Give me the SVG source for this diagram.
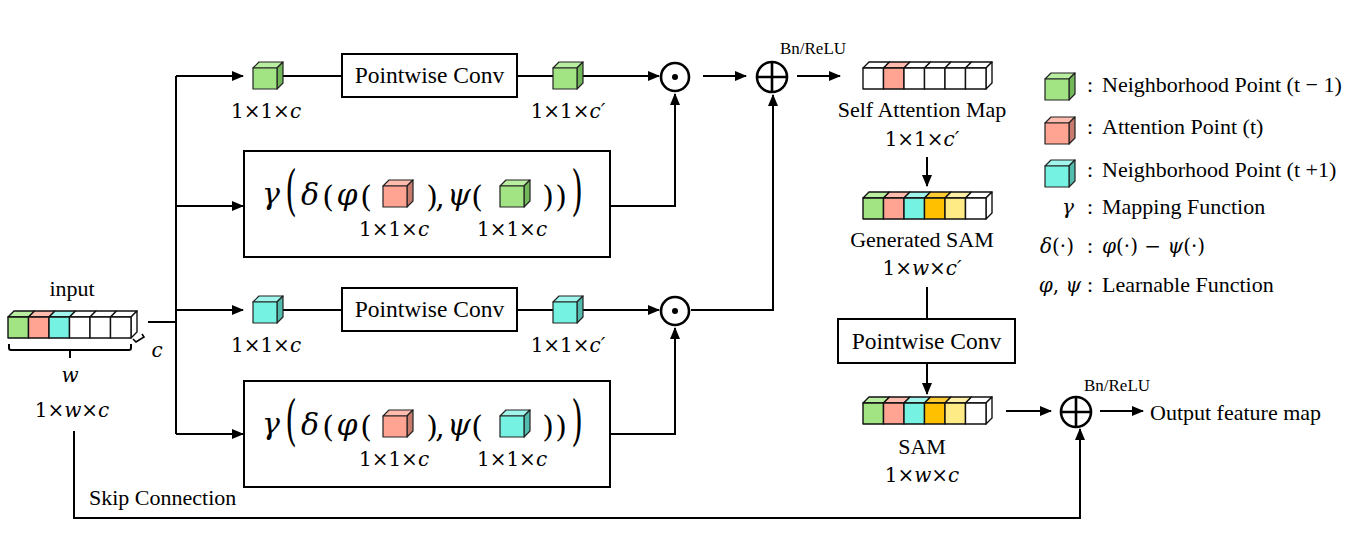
<svg xmlns="http://www.w3.org/2000/svg" xmlns:xlink="http://www.w3.org/1999/xlink" width="1358" height="541" viewBox="0 0 1358 541">
<style>
.t{font-family:"Liberation Serif","Times New Roman",serif;font-size:22px;fill:#000}
.pc{font-family:"Liberation Serif","Times New Roman",serif;font-size:23.5px;fill:#000}
.sm{font-family:"Liberation Serif","Times New Roman",serif;font-size:17px;fill:#000}
.m{font-family:"DejaVu Serif",serif;font-size:20px;fill:#000}
.mi{font-style:italic}
.g{font-family:"DejaVu Serif",serif;font-style:italic;font-size:30px;fill:#000}
.p{font-family:"DejaVu Serif",serif;font-size:30px;fill:#000}
.box{fill:#fff;stroke:#000;stroke-width:2}
.ln{fill:none;stroke:#000;stroke-width:2}
.cb{stroke:#222;stroke-width:1.2;stroke-linejoin:round}
.cell{stroke:#111;stroke-width:1.4;stroke-linejoin:round}
.op{fill:none;stroke:#000;stroke-width:2.6}
</style>
<defs>
<marker id="ah" markerUnits="userSpaceOnUse" markerWidth="12" markerHeight="10" refX="11" refY="5" orient="auto">
<path d="M0,0 L12,5 L0,10 Z" fill="#000"/>
</marker>
<g id="cubeG" class="cb">
<polygon points="0,6 6,0 30,0 24,6" fill="#B9EDA0"/>
<polygon points="24,6 30,0 30,21 24,27" fill="#72B85A"/>
<rect x="0" y="6" width="24" height="21" fill="#A2E483"/>
</g>
<g id="cubeR" class="cb">
<polygon points="0,6 6,0 30,0 24,6" fill="#FFBBAE"/>
<polygon points="24,6 30,0 30,21 24,27" fill="#C77B6C"/>
<rect x="0" y="6" width="24" height="21" fill="#FFA393"/>
</g>
<g id="cubeC" class="cb">
<polygon points="0,6 6,0 30,0 24,6" fill="#A0F6EC"/>
<polygon points="24,6 30,0 30,21 24,27" fill="#52BDAE"/>
<rect x="0" y="6" width="24" height="21" fill="#76F2E2"/>
</g>
</defs>

<!-- connectors -->
<g id="connectors">
<path class="ln" d="M148,322 H176"/>
<path class="ln" d="M176,76 V434"/>
<path class="ln" d="M176,76 H243" marker-end="url(#ah)"/>
<path class="ln" d="M176,206 H243" marker-end="url(#ah)"/>
<path class="ln" d="M176,310 H243" marker-end="url(#ah)"/>
<path class="ln" d="M176,434 H243" marker-end="url(#ah)"/>
<path class="ln" d="M283,76 H342"/>
<path class="ln" d="M517,76 H553"/>
<path class="ln" d="M583,76 H659" marker-end="url(#ah)"/>
<path class="ln" d="M283,310 H342"/>
<path class="ln" d="M517,310 H553"/>
<path class="ln" d="M583,310 H659" marker-end="url(#ah)"/>
<path class="ln" d="M703,76 H746" marker-end="url(#ah)"/>
<path class="ln" d="M797,76 H840" marker-end="url(#ah)"/>
<path class="ln" d="M610,206 H675 V94" marker-end="url(#ah)"/>
<path class="ln" d="M691,310 H773 V95" marker-end="url(#ah)"/>
<path class="ln" d="M610,434 H675 V328" marker-end="url(#ah)"/>
<path class="ln" d="M927,157 V186" marker-end="url(#ah)"/>
<path class="ln" d="M927,287 V318"/>
<path class="ln" d="M927,363 V394" marker-end="url(#ah)"/>
<path class="ln" d="M1006,411 H1051" marker-end="url(#ah)"/>
<path class="ln" d="M1100,411 H1143" marker-end="url(#ah)"/>
<path class="ln" d="M74,431 V518 H1080 V429" marker-end="url(#ah)"/>
</g>

<!-- input -->
<g id="input">
<text class="t" x="72" y="296" text-anchor="middle">input</text>
<g transform="translate(8,311)" class="cell">
<polygon points="0,6 6,0 26.5,0 20.5,6" fill="#B9EDA0"/>
<polygon points="20.5,6 26.5,0 47,0 41,6" fill="#FFBBAE"/>
<polygon points="41,6 47,0 67.5,0 61.5,6" fill="#A0F6EC"/>
<polygon points="61.5,6 67.5,0 88,0 82,6" fill="#fff"/>
<polygon points="82,6 88,0 108.5,0 102.5,6" fill="#fff"/>
<polygon points="102.5,6 108.5,0 129,0 123,6" fill="#fff"/>
<polygon points="123,6 129,0 129,21 123,27" fill="#fff"/>
<rect x="0" y="6" width="20.5" height="21" fill="#A2E483"/>
<rect x="20.5" y="6" width="20.5" height="21" fill="#FFA393"/>
<rect x="41" y="6" width="20.5" height="21" fill="#76F2E2"/>
<rect x="61.5" y="6" width="20.5" height="21" fill="#fff"/>
<rect x="82" y="6" width="20.5" height="21" fill="#fff"/>
<rect x="102.5" y="6" width="20.5" height="21" fill="#fff"/>
</g>
<path d="M133,339 l3,3 l8,-5 l-2,-3" fill="none" stroke="#000" stroke-width="1.6"/>
<path d="M9,344 v4 q0,2 2,2 H129 q2,0 2,-2 v-4 M70,350 v8" fill="none" stroke="#000" stroke-width="2"/>
<text class="m mi" x="157" y="357" text-anchor="middle">c</text>
<text class="m mi" x="70" y="382" text-anchor="middle">w</text>
<text class="m" x="72" y="417" text-anchor="middle">1×<tspan class="mi">w</tspan>×<tspan class="mi">c</tspan></text>
</g>

<!-- top row -->
<g id="cube-top-in">
<use href="#cubeG" x="253" y="62"/>
<text class="m" x="266" y="118" text-anchor="middle">1×1×<tspan class="mi">c</tspan></text>
</g>
<g id="pwconv-top">
<rect class="box" x="342" y="54" width="175" height="43"/>
<text class="pc" x="429.5" y="83" text-anchor="middle">Pointwise Conv</text>
</g>
<g id="cube-top-out">
<use href="#cubeG" x="553" y="62"/>
<text class="m" x="568" y="118" text-anchor="middle">1×1×<tspan class="mi">c′</tspan></text>
</g>
<g id="odot-top">
<circle class="op" cx="675" cy="77" r="14"/>
<circle cx="675" cy="77" r="3" fill="#000"/>
</g>
<g id="oplus-top">
<circle class="op" cx="772" cy="77" r="15"/>
<path class="op" d="M757,77 H787 M772,62 V92"/>
<text class="sm" x="813" y="54" text-anchor="middle">Bn/ReLU</text>
</g>

<!-- gamma box 1 -->
<g id="gamma-top">
<rect class="box" x="244" y="151" width="366" height="106"/>
<text class="g" x="271" y="204" text-anchor="middle">γ</text>
<text class="p" transform="translate(291,209) scale(1,1.8)" text-anchor="middle">(</text>
<text class="g" x="310" y="205" text-anchor="middle">δ</text>
<text class="p" x="328" y="207" text-anchor="middle">(</text>
<text class="g" x="347" y="205" text-anchor="middle">φ</text>
<text class="p" x="366" y="207" text-anchor="middle">(</text>
<use href="#cubeR" x="383" y="180"/>
<text class="p" x="432" y="207" text-anchor="middle">)</text>
<text class="p" x="440" y="207" text-anchor="middle">,</text>
<text class="g" x="459" y="205" text-anchor="middle">ψ</text>
<text class="p" x="477" y="207" text-anchor="middle">(</text>
<use href="#cubeG" x="500" y="180"/>
<text class="p" x="548" y="207" text-anchor="middle">)</text>
<text class="p" x="561" y="207" text-anchor="middle">)</text>
<text class="p" transform="translate(577,209) scale(1,1.8)" text-anchor="middle">)</text>
<text class="m" x="394" y="236" text-anchor="middle">1×1×<tspan class="mi">c</tspan></text>
<text class="m" x="512" y="236" text-anchor="middle">1×1×<tspan class="mi">c</tspan></text>
</g>

<!-- middle row -->
<g id="cube-mid-in">
<use href="#cubeC" x="253" y="296"/>
<text class="m" x="266" y="352" text-anchor="middle">1×1×<tspan class="mi">c</tspan></text>
</g>
<g id="pwconv-mid">
<rect class="box" x="342" y="288" width="175" height="43"/>
<text class="pc" x="429.5" y="317" text-anchor="middle">Pointwise Conv</text>
</g>
<g id="cube-mid-out">
<use href="#cubeC" x="553" y="296"/>
<text class="m" x="568" y="352" text-anchor="middle">1×1×<tspan class="mi">c′</tspan></text>
</g>
<g id="odot-mid">
<circle class="op" cx="675" cy="311" r="14"/>
<circle cx="675" cy="311" r="3" fill="#000"/>
</g>

<!-- gamma box 2 -->
<g id="gamma-bottom">
<rect class="box" x="244" y="381" width="366" height="106"/>
<text class="g" x="271" y="434" text-anchor="middle">γ</text>
<text class="p" transform="translate(291,439) scale(1,1.8)" text-anchor="middle">(</text>
<text class="g" x="310" y="435" text-anchor="middle">δ</text>
<text class="p" x="328" y="437" text-anchor="middle">(</text>
<text class="g" x="347" y="435" text-anchor="middle">φ</text>
<text class="p" x="366" y="437" text-anchor="middle">(</text>
<use href="#cubeR" x="383" y="410"/>
<text class="p" x="432" y="437" text-anchor="middle">)</text>
<text class="p" x="440" y="437" text-anchor="middle">,</text>
<text class="g" x="459" y="435" text-anchor="middle">ψ</text>
<text class="p" x="477" y="437" text-anchor="middle">(</text>
<use href="#cubeC" x="500" y="410"/>
<text class="p" x="548" y="437" text-anchor="middle">)</text>
<text class="p" x="561" y="437" text-anchor="middle">)</text>
<text class="p" transform="translate(577,439) scale(1,1.8)" text-anchor="middle">)</text>
<text class="m" x="394" y="466" text-anchor="middle">1×1×<tspan class="mi">c</tspan></text>
<text class="m" x="512" y="466" text-anchor="middle">1×1×<tspan class="mi">c</tspan></text>
</g>

<!-- Self Attention Map -->
<g id="self-attention-map">
<g transform="translate(863,62)" class="cell">
<polygon points="0,6 6,0 26.5,0 20.5,6" fill="#fff"/>
<polygon points="20.5,6 26.5,0 47,0 41,6" fill="#FFBBAE"/>
<polygon points="41,6 47,0 67.5,0 61.5,6" fill="#fff"/>
<polygon points="61.5,6 67.5,0 88,0 82,6" fill="#fff"/>
<polygon points="82,6 88,0 108.5,0 102.5,6" fill="#fff"/>
<polygon points="102.5,6 108.5,0 129,0 123,6" fill="#fff"/>
<polygon points="123,6 129,0 129,21 123,27" fill="#fff"/>
<rect x="0" y="6" width="20.5" height="21" fill="#fff"/>
<rect x="20.5" y="6" width="20.5" height="21" fill="#FFA393"/>
<rect x="41" y="6" width="20.5" height="21" fill="#fff"/>
<rect x="61.5" y="6" width="20.5" height="21" fill="#fff"/>
<rect x="82" y="6" width="20.5" height="21" fill="#fff"/>
<rect x="102.5" y="6" width="20.5" height="21" fill="#fff"/>
</g>
<text class="t" x="922" y="117" text-anchor="middle" font-size="21.5">Self Attention Map</text>
<text class="m" x="922" y="146" text-anchor="middle">1×1×<tspan class="mi">c′</tspan></text>
</g>

<!-- Generated SAM -->
<g id="generated-sam">
<g transform="translate(863,192)" class="cell">
<polygon points="0,6 6,0 26.5,0 20.5,6" fill="#B9EDA0"/>
<polygon points="20.5,6 26.5,0 47,0 41,6" fill="#FFBBAE"/>
<polygon points="41,6 47,0 67.5,0 61.5,6" fill="#A0F6EC"/>
<polygon points="61.5,6 67.5,0 88,0 82,6" fill="#FFCB33"/>
<polygon points="82,6 88,0 108.5,0 102.5,6" fill="#FFF0A6"/>
<polygon points="102.5,6 108.5,0 129,0 123,6" fill="#fff"/>
<polygon points="123,6 129,0 129,21 123,27" fill="#fff"/>
<rect x="0" y="6" width="20.5" height="21" fill="#A2E483"/>
<rect x="20.5" y="6" width="20.5" height="21" fill="#FFA393"/>
<rect x="41" y="6" width="20.5" height="21" fill="#76F2E2"/>
<rect x="61.5" y="6" width="20.5" height="21" fill="#FFC000"/>
<rect x="82" y="6" width="20.5" height="21" fill="#FFEB85"/>
<rect x="102.5" y="6" width="20.5" height="21" fill="#fff"/>
</g>
<text class="t" x="922" y="247" text-anchor="middle" font-size="21.5">Generated SAM</text>
<text class="m" x="922" y="275" text-anchor="middle">1×<tspan class="mi">w</tspan>×<tspan class="mi">c′</tspan></text>
</g>

<g id="pwconv-right">
<rect class="box" x="838" y="319" width="177" height="44"/>
<text class="pc" x="926.5" y="349" text-anchor="middle">Pointwise Conv</text>
</g>

<!-- SAM -->
<g id="sam">
<g transform="translate(863,397)" class="cell">
<polygon points="0,6 6,0 26.5,0 20.5,6" fill="#B9EDA0"/>
<polygon points="20.5,6 26.5,0 47,0 41,6" fill="#FFBBAE"/>
<polygon points="41,6 47,0 67.5,0 61.5,6" fill="#A0F6EC"/>
<polygon points="61.5,6 67.5,0 88,0 82,6" fill="#FFCB33"/>
<polygon points="82,6 88,0 108.5,0 102.5,6" fill="#FFF0A6"/>
<polygon points="102.5,6 108.5,0 129,0 123,6" fill="#fff"/>
<polygon points="123,6 129,0 129,21 123,27" fill="#fff"/>
<rect x="0" y="6" width="20.5" height="21" fill="#A2E483"/>
<rect x="20.5" y="6" width="20.5" height="21" fill="#FFA393"/>
<rect x="41" y="6" width="20.5" height="21" fill="#76F2E2"/>
<rect x="61.5" y="6" width="20.5" height="21" fill="#FFC000"/>
<rect x="82" y="6" width="20.5" height="21" fill="#FFEB85"/>
<rect x="102.5" y="6" width="20.5" height="21" fill="#fff"/>
</g>
<text class="t" x="922" y="454" text-anchor="middle" font-size="21.5">SAM</text>
<text class="m" x="922" y="482" text-anchor="middle">1×<tspan class="mi">w</tspan>×<tspan class="mi">c</tspan></text>
</g>

<g id="oplus-out">
<circle class="op" cx="1076" cy="412" r="15"/>
<path class="op" d="M1061,412 H1091 M1076,397 V427"/>
<text class="sm" x="1117" y="391" text-anchor="middle">Bn/ReLU</text>
</g>
<g id="output">
<text class="t" x="1150" y="420">Output feature map</text>
</g>
<g id="skip-label">
<text class="t" x="89" y="505">Skip Connection</text>
</g>

<!-- legend -->
<g id="legend">
<use href="#cubeG" x="1045" y="73"/>
<text class="t" x="1087" y="92">:</text>
<text class="t" x="1102" y="92">Neighborhood Point (t − 1)</text>
<use href="#cubeR" x="1045" y="117"/>
<text class="t" x="1087" y="134">:</text>
<text class="t" x="1102" y="134">Attention Point (t)</text>
<use href="#cubeC" x="1045" y="160"/>
<text class="t" x="1087" y="177">:</text>
<text class="t" x="1102" y="177">Neighborhood Point (t +1)</text>
<text class="m mi" x="1068" y="214" text-anchor="middle">γ</text>
<text class="t" x="1087" y="214">:</text>
<text class="t" x="1102" y="214">Mapping Function</text>
<text class="m" x="1057" y="253" text-anchor="middle"><tspan class="mi">δ</tspan>(·)</text>
<text class="t" x="1087" y="253">:</text>
<text class="m" x="1102" y="253"><tspan class="mi">φ</tspan>(·) − <tspan class="mi">ψ</tspan>(·)</text>
<text class="m" x="1060" y="292" text-anchor="middle"><tspan class="mi">φ</tspan>, <tspan class="mi">ψ</tspan></text>
<text class="t" x="1087" y="292">:</text>
<text class="t" x="1102" y="292">Learnable Function</text>
</g>
</svg>
